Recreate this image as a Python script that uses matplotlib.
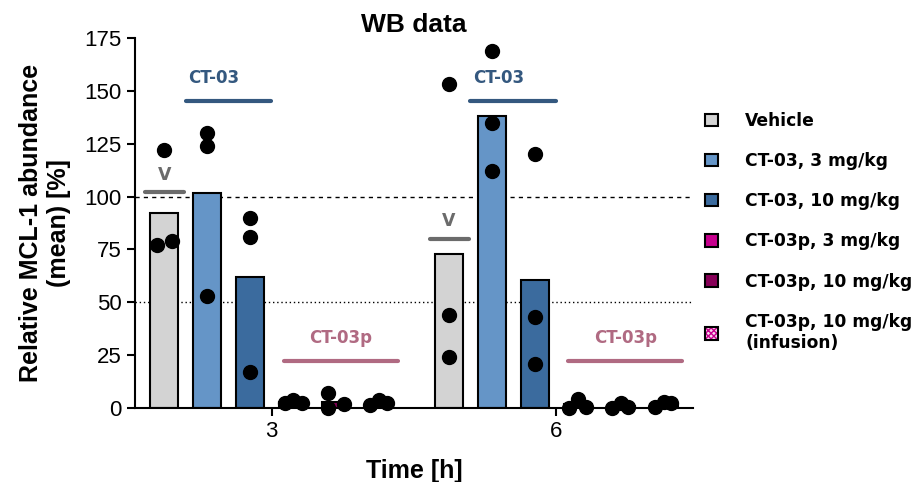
import numpy as np
import matplotlib
matplotlib.use("Agg")
import matplotlib.pyplot as plt
from matplotlib.patches import Patch
from matplotlib.legend_handler import HandlerTuple

# data
times = [3, 6]
groups = ["Vehicle", "CT-03, 3 mg/kg", "CT-03, 10 mg/kg",
          "CT-03p, 3 mg/kg", "CT-03p, 10 mg/kg", "CT-03p, 10 mg/kg\n(infusion)"]

means_3h = [92.4, 101.6, 61.8, 3.0, 2.9, 2.5]
means_6h = [73.0, 138.2, 60.4, 1.7, 1.0, 1.9]

points_3h = [
    [122, 79, 77],
    [130, 124, 53],
    [90, 81, 17],
    [2.4, 4.0, 2.5],
    [7.0, 0.0, 2.0],
    [1.4, 3.8, 2.4],
]
points_6h = [
    [153, 44, 24],
    [169, 135, 112],
    [120, 43, 21],
    [0.0, 4.3, 0.6],
    [0.0, 2.2, 0.6],
    [0.6, 3.0, 2.2],
]

colors = ["#d3d3d3", "#6595c7", "#3b6b9e", "#c7008e", "#870058", "#f3c6e4"]

# layout
fig = plt.figure(figsize=(9.17, 4.82), dpi=100)
ax = fig.add_axes([0.1472, 0.1535, 0.6085, 0.7677])

step = 0.4526
width = 0.295
offsets = (np.arange(6) - 2.5) * step
# horizontal jitter for points (in units of step) so overlapping dots separate
jitter_3h = [[0, 0.18, -0.18], [0, 0, 0], [0, 0, 0],
             [-0.2, 0, 0.2], [-0.2, -0.2, 0.18], [-0.2, 0, 0.18]]
jitter_6h = [[0, 0, 0], [0, 0, 0], [0, 0, 0],
             [-0.2, 0, 0.2], [-0.2, 0, 0.18], [-0.2, 0, 0.18]]

label_font = "DejaVu Sans"

for t, means, pts, jit in [(times[0], means_3h, points_3h, jitter_3h),
                           (times[1], means_6h, points_6h, jitter_6h)]:
    for i in range(6):
        x = t + offsets[i]
        if i == 5:
            ax.bar(x, means[i], width, color="#f7d8ec", edgecolor="#c7008e",
                   hatch="xxxxxx", linewidth=0, zorder=2)
            ax.bar(x, means[i], width, fill=False, edgecolor="black",
                   linewidth=1.5, zorder=2)
        else:
            ax.bar(x, means[i], width, color=colors[i], edgecolor="black",
                   linewidth=1.5, zorder=2)
        xs = [x + j * step for j in jit[i]]
        ax.scatter(xs, pts[i], s=100, color="black", zorder=4, clip_on=False)

# reference lines
ax.axhline(100, color="black", linestyle=(0, (3, 3)), linewidth=1, zorder=1)
ax.axhline(50, color="black", linestyle=(0, (1, 2)), linewidth=1, zorder=1)

# group annotations
for t, v_level in [(3, 102), (6, 80)]:
    x0 = t + offsets[0]
    ax.plot([x0 - 0.2, x0 + 0.21], [v_level, v_level], color="#6b6b6b",
            linewidth=3, solid_capstyle="round", zorder=3)
    ax.text(x0, v_level + 4, "V", color="#6b6b6b", ha="center", va="bottom",
            fontsize=12.5, fontweight="bold", family=label_font)

    xa, xb = t + offsets[1] - 0.23, t + offsets[2] + 0.22
    ax.plot([xa, xb], [145, 145], color="#34587f", linewidth=3,
            solid_capstyle="round", zorder=3)
    ax.text(xa + 0.03, 152, "CT-03", color="#34587f", ha="left", va="bottom",
            fontsize=12, fontweight="bold", family=label_font)

    xa, xb = t + offsets[3] - 0.1, t + offsets[5] + 0.2
    ax.plot([xa, xb], [22, 22], color="#b06a82", linewidth=3,
            solid_capstyle="round", zorder=3)
    ax.text((xa + xb) / 2, 29, "CT-03p", color="#b06a82", ha="center",
            va="bottom", fontsize=12, fontweight="bold", family=label_font)

ax.set_xlim(1.558, 7.442)
ax.set_ylim(0, 175)
ax.set_yticks(np.arange(0, 176, 25))
ax.set_xticks(times)
ax.set_xticklabels([str(t) for t in times])
ax.tick_params(axis="both", labelsize=16, width=1.5, length=6,
               labelfontfamily="Liberation Sans")
for s in ["top", "right"]:
    ax.spines[s].set_visible(False)
for s in ["left", "bottom"]:
    ax.spines[s].set_linewidth(1.5)

ax.set_title("WB data", fontsize=19, fontweight="bold",
             family="Liberation Sans", pad=4)
ax.set_xlabel("Time [h]", fontsize=18, fontweight="bold",
              family="Liberation Sans", labelpad=12)
ax.set_ylabel("Relative MCL-1 abundance\n(mean) [%]", fontsize=18,
              fontweight="bold", family="Liberation Sans", labelpad=10)

handles = [Patch(facecolor=c, edgecolor="black", linewidth=1.5) for c in colors[:5]]
handles.append((Patch(facecolor="#f7d8ec", edgecolor="#c7008e", hatch="xxxxxx", linewidth=0),
                Patch(fill=False, edgecolor="black", linewidth=1.5)))
fig.legend(handles, groups, loc="upper left", bbox_to_anchor=(0.752, 0.80),
           frameon=False, handlelength=0.75, handleheight=0.75,
           handletextpad=1.6, labelspacing=1.3,
           prop={"family": label_font, "weight": "bold", "size": 12.3},
           handler_map={tuple: HandlerTuple(ndivide=1)})

fig.savefig("out.png", dpi=100)
